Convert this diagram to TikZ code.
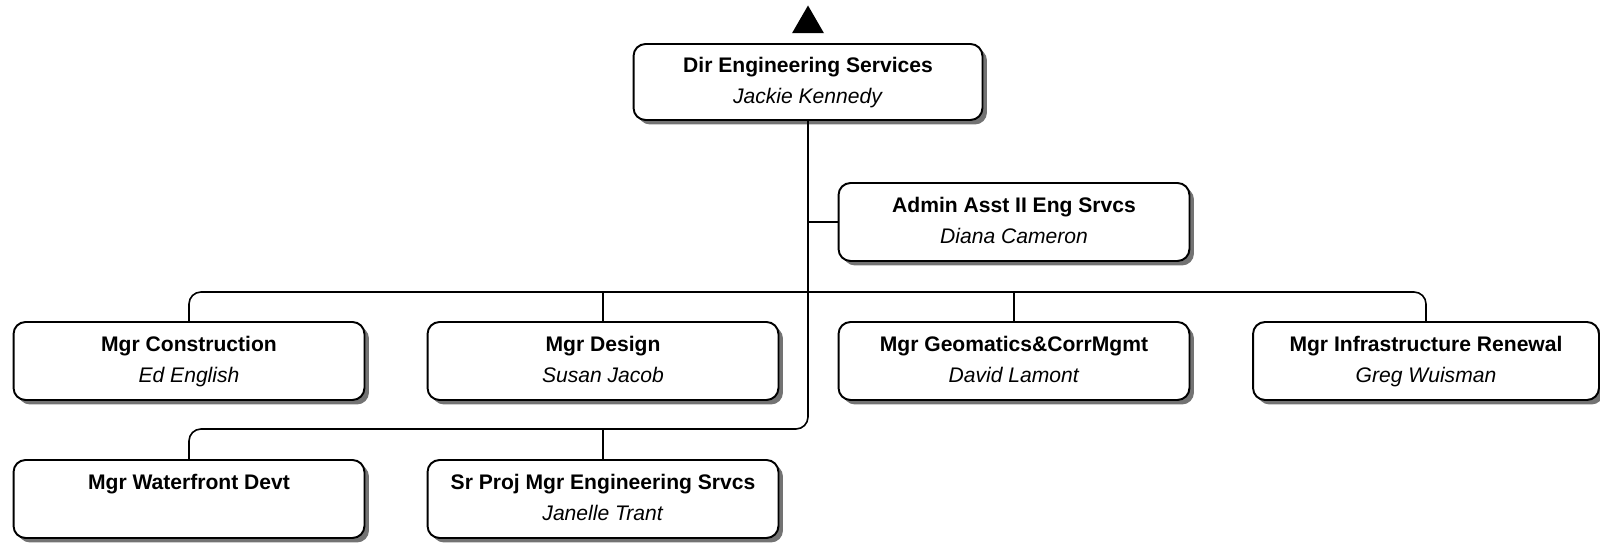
\documentclass[tikz,border=0pt]{standalone}
\usepackage{fontspec}
\setmainfont{Liberation Sans}
\usetikzlibrary{shapes.geometric,shadows}

\newcommand{\post}[2]{\textbf{#1}\strut\\\textit{#2}\strut}

\begin{document}
\begin{tikzpicture}[x=0.02cm, y=-0.02cm,
    box/.style={draw, line width=1.1pt, rounded corners=0.24cm, fill=white,
      minimum width=7.02cm, minimum height=1.56cm, align=center,
      font=\fontsize{12}{17.4}\selectfont,
      drop shadow={shadow xshift=0.09cm, shadow yshift=-0.09cm, fill=black!55, opacity=1}},
    link/.style={line width=0.9pt, rounded corners=0.24cm}]
  \useasboundingbox (0,0) rectangle (1600,543);

  \node[fill, regular polygon, regular polygon sides=3, inner sep=0pt,
        minimum size=0.74cm] (up) at (808,24) {};

  \node[box, minimum width=6.98cm, minimum height=1.52cm] (dir) at (808,82) {\post{Dir Engineering Services}{Jackie Kennedy}};
  \node[box] (admin) at (1014,222) {\post{Admin Asst II Eng Srvcs}{Diana Cameron}};

  \node[box] (constr) at (189,361) {\post{Mgr Construction}{Ed English}};
  \node[box] (design) at (603,361) {\post{Mgr Design}{Susan Jacob}};
  \node[box] (geo) at (1014,361) {\post{Mgr Geomatics\&CorrMgmt}{David Lamont}};
  \node[box, minimum width=6.92cm] (infra) at (1426,361) {\post{Mgr Infrastructure Renewal}{Greg Wuisman}};

  \node[box] (water) at (189,499) {\post{Mgr Waterfront Devt}{}};
  \node[box] (srproj) at (603,499) {\post{Sr Proj Mgr Engineering Srvcs}{Janelle Trant}};

  \coordinate (bus1) at (0,292);
  \coordinate (bus2) at (0,429);

  \draw[link] (admin.west) -- (admin.west -| dir.south);
  \draw[link] (dir.south) |- (bus2 -| water.north) -- (water.north);
  \draw[link] (srproj.north) -- (srproj.north |- bus2);
  \draw[link] (constr.north) |- (bus1 -| infra.north) -- (infra.north);
  \draw[link] (design.north) -- (design.north |- bus1);
  \draw[link] (geo.north) -- (geo.north |- bus1);
\end{tikzpicture}
\end{document}
